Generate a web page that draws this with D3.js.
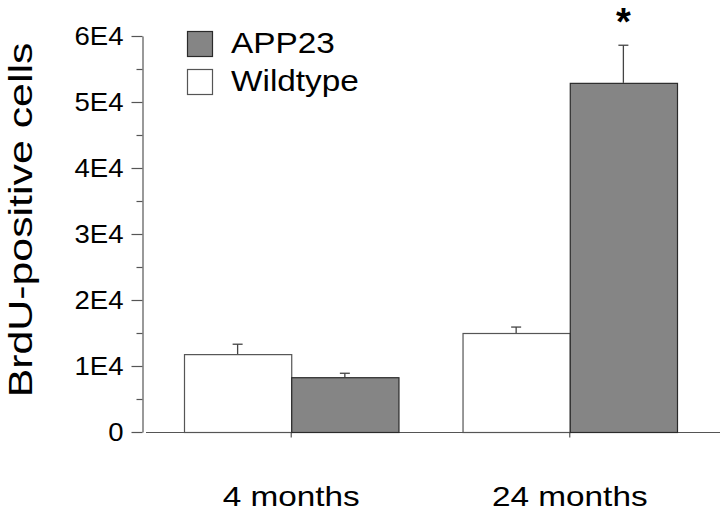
<!DOCTYPE html>
<html>
<head>
<meta charset="utf-8">
<script src="https://cdn.jsdelivr.net/npm/d3@7"></script>
<style>
  html, body { margin: 0; padding: 0; background: #fff; }
  svg { display: block; font-family: "Liberation Sans", Arial, Helvetica, sans-serif; }
</style>
</head>
<body>
<svg id="chart" width="720" height="513"></svg>
<script>
// ---- data ----
const groups = ["4 months", "24 months"];
const seriesNames = ["Wildtype", "APP23"];
const wildtypeMeans = [11800, 15000];
const wildtypeErrors = [1500, 900];
const app23Means = [8300, 52900];
const app23Errors = [600, 5700];
const yTickValues = [0, 10000, 20000, 30000, 40000, 50000, 60000];
const yTickLabels = ["0", "1E4", "2E4", "3E4", "4E4", "5E4", "6E4"];
const yMinorTickValues = [5000, 15000, 25000, 35000, 45000, 55000];
const legendOrder = ["APP23", "Wildtype"];
const significantGroups = ["24 months"];
const yTitle = "BrdU-positive cells";

// ---- styles ----
const fills = { "Wildtype": "#ffffff", "APP23": "#858585" };
const strokes = { "Wildtype": "#555555", "APP23": "#2a2a2a" };
const axisColor = "#555555";
const fontFam = "'Liberation Sans', Arial, sans-serif";

const svg = d3.select("#chart");

const rows = [];
groups.forEach((g, i) => {
  rows.push({ group: g, series: "Wildtype", value: wildtypeMeans[i], err: wildtypeErrors[i] });
  rows.push({ group: g, series: "APP23", value: app23Means[i], err: app23Errors[i] });
});

const y = d3.scaleLinear().domain([0, 60000]).range([432, 36]);
const x0 = d3.scaleBand().domain(groups).range([184, 677]).paddingInner(0.23).paddingOuter(0);
const x1 = d3.scaleBand().domain(seriesNames).range([0, x0.bandwidth()]).padding(0);

function stretch(sel, k) {
  sel.each(function () {
    const l = this.getComputedTextLength();
    d3.select(this).attr("textLength", l * k).attr("lengthAdjust", "spacingAndGlyphs");
  });
}

// y axis (major)
const yAxis = svg.append("g").attr("transform", "translate(142.5,0)")
  .call(d3.axisLeft(y).tickValues(yTickValues).tickFormat((d, i) => yTickLabels[i])
    .tickSize(11).tickSizeOuter(0).tickPadding(8));
yAxis.select(".domain").attr("stroke", axisColor).attr("stroke-width", 1.2);
yAxis.selectAll(".tick line").attr("stroke", axisColor).attr("stroke-width", 1.2);
yAxis.selectAll(".tick text").attr("font-size", 26).attr("fill", "#000")
  .attr("font-family", fontFam);
stretch(yAxis.selectAll(".tick text"), 1.06);

// y axis (minor)
const yMinor = svg.append("g").attr("transform", "translate(142.5,0)")
  .call(d3.axisLeft(y).tickValues(yMinorTickValues).tickFormat("").tickSize(6).tickSizeOuter(0));
yMinor.select(".domain").remove();
yMinor.selectAll(".tick line").attr("stroke", axisColor).attr("stroke-width", 1.2);

// x axis
const xAxis = svg.append("g").attr("transform", "translate(0,432.5)")
  .call(d3.axisBottom(x0).tickSize(5).tickSizeOuter(0).tickPadding(49));
xAxis.select(".domain").attr("d", "M146,0H720").attr("stroke", axisColor).attr("stroke-width", 1.2);
xAxis.selectAll(".tick line").attr("stroke", axisColor).attr("stroke-width", 1.2);
xAxis.selectAll(".tick text").attr("font-size", 28).attr("fill", "#000")
  .attr("font-family", fontFam);
stretch(xAxis.selectAll(".tick text"), 1.19);

// error bars (upper only)
const eb = svg.append("g");
rows.forEach(r => {
  const cx = x0(r.group) + x1(r.series) + x1.bandwidth() / 2;
  eb.append("line").attr("x1", cx).attr("x2", cx)
    .attr("y1", y(r.value)).attr("y2", y(r.value + r.err))
    .attr("stroke", "#444").attr("stroke-width", 1.3);
  eb.append("line").attr("x1", cx - 5).attr("x2", cx + 5)
    .attr("y1", y(r.value + r.err)).attr("y2", y(r.value + r.err))
    .attr("stroke", "#444").attr("stroke-width", 1.3);
});

// bars
svg.append("g").selectAll("rect").data(rows).join("rect")
  .attr("x", d => x0(d.group) + x1(d.series) + 0.5)
  .attr("y", d => y(d.value) + 0.5)
  .attr("width", x1.bandwidth())
  .attr("height", d => y(0) - y(d.value))
  .attr("fill", d => fills[d.series])
  .attr("stroke", d => strokes[d.series])
  .attr("stroke-width", 1.2);

// significance asterisk
significantGroups.forEach(g => {
  const i = groups.indexOf(g);
  const cx = x0(g) + x1("APP23") + x1.bandwidth() / 2;
  svg.append("text").attr("x", cx).attr("y", y(app23Means[i] + app23Errors[i]) - 10)
    .attr("text-anchor", "middle").attr("font-size", 38).attr("font-weight", "bold")
    .attr("font-family", fontFam).text("*");
});

// y title
const yt = svg.append("text").attr("transform", "translate(32,220) rotate(-90)")
  .attr("text-anchor", "middle").attr("font-size", 34).attr("fill", "#000")
  .attr("font-family", fontFam).text(yTitle);
stretch(yt, 1.26);

// legend
const leg = svg.append("g").attr("transform", "translate(187,31)");
legendOrder.forEach((s, i) => {
  const gi = leg.append("g").attr("transform", `translate(0,${i * 38})`);
  gi.append("rect").attr("x", 0.5).attr("y", 0.5).attr("width", 25).attr("height", 25)
    .attr("fill", fills[s]).attr("stroke", strokes[s]).attr("stroke-width", 1.2);
  const t = gi.append("text").attr("x", 44).attr("y", 22).attr("font-size", 29).attr("fill", "#000")
    .attr("font-family", fontFam).text(s);
  stretch(t, 1.15);
});
</script>
</body>
</html>
